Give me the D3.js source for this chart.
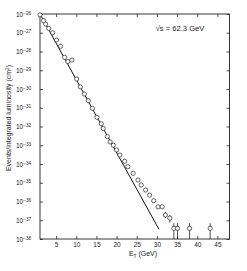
<!DOCTYPE html>
<html lang="en">
<head>
  <meta charset="UTF-8">
  <title>Events / integrated luminosity vs ET</title>
  <script src="https://d3js.org/d3.v7.min.js"></script>
  <style>
    body { margin: 0; background: #fff; font-family: "Liberation Sans", Arial, sans-serif; }
    .axis text { font-size: 6.5px; fill: #222; }
    .axis line, .axis path { stroke: #222; stroke-width: 0.8px; }
  </style>
</head>
<body>
  <svg width="247" height="271"></svg>

  <script>
    // measured points: transverse energy (GeV) and events / integrated luminosity (cm^2)
    const energies = [1.0, 1.9, 2.4, 3.15, 4.15, 5.1, 6.1, 7.1, 7.9, 8.9,
      10.1, 11.0, 12.0, 13.0, 14.0, 15.1, 16.2, 16.7, 17.7, 18.4,
      19.2, 20.0, 20.8, 22.0, 22.8, 24.1, 25.3, 26.1, 27.2, 28.2,
      29.2, 30.3, 31.3, 32.1, 33.2, 34.2, 35.1, 38.1, 43.2];
    const crossSections = [9e-27, 4.4e-27, 2.9e-27, 1.7e-27, 1.0e-27, 4.1e-28, 1.9e-28, 4.9e-29, 2.9e-29, 3.5e-29,
      3.4e-30, 1.3e-30, 5.4e-31, 2.4e-31, 9.3e-32, 3.1e-32, 1.4e-32, 7.9e-33, 2.9e-33, 1.5e-33,
      1.0e-33, 5.6e-34, 3.0e-34, 1.4e-34, 7.2e-35, 3.2e-35, 1.4e-35, 7.6e-36, 4.1e-36, 2.2e-36,
      1.1e-36, 5.2e-37, 5.2e-37, 1.9e-37, 1.3e-37, 3.7e-38, 3.7e-38, 3.7e-38, 3.7e-38];
    // error bars (low, high) only on the last few points
    const errLow = [null, null, null, null, null, null, null, null, null, null,
      null, null, null, null, null, null, null, null, null, null,
      null, null, null, null, null, null, null, null, null, null,
      null, null, null, 1.3e-37, 7.5e-38, 1e-38, 1e-38, 1e-38, 1e-38];
    const errHigh = [null, null, null, null, null, null, null, null, null, null,
      null, null, null, null, null, null, null, null, null, null,
      null, null, null, null, null, null, null, null, null, null,
      null, null, null, 2.8e-37, 1.9e-37, 7e-38, 7e-38, 7e-38, 7e-38];

    // straight fitted line
    const fitEnergies = [1.0, 30.5];
    const fitValues = [1e-26, 3.3e-38];

    const xTicks = [5, 10, 15, 20, 25, 30, 35, 40, 45];
    const yExponents = [-26, -27, -28, -29, -30, -31, -32, -33, -34, -35, -36, -37, -38];

    const svg = d3.select("svg");
    const margin = { top: 14, right: 17.5, bottom: 32, left: 40 };
    const width = 247, height = 271;

    const x = d3.scaleLinear()
      .domain([1, 48])
      .range([margin.left, width - margin.right]);

    const y = d3.scaleLog()
      .domain([1e-38, 1e-26])
      .range([height - margin.bottom, margin.top]);

    const yTickVals = yExponents.map(e => Math.pow(10, e));

    // frame
    svg.append("rect")
      .attr("x", x.range()[0]).attr("y", y.range()[1])
      .attr("width", x.range()[1] - x.range()[0])
      .attr("height", y.range()[0] - y.range()[1])
      .attr("fill", "none").attr("stroke", "#222").attr("stroke-width", 0.9);

    // bottom axis
    svg.append("g")
      .attr("class", "axis")
      .attr("transform", `translate(0,${y.range()[0]})`)
      .call(d3.axisBottom(x).tickValues(xTicks).tickSize(-3).tickSizeOuter(0).tickPadding(3).tickFormat(d3.format("d")))
      .call(g => g.select(".domain").remove());

    // top axis
    svg.append("g")
      .attr("class", "axis")
      .attr("transform", `translate(0,${y.range()[1]})`)
      .call(d3.axisTop(x).tickValues(xTicks).tickSize(-3).tickSizeOuter(0).tickFormat(""))
      .call(g => g.select(".domain").remove());

    // left axis
    const yAxis = svg.append("g")
      .attr("class", "axis")
      .attr("transform", `translate(${margin.left},0)`)
      .call(d3.axisLeft(y).tickValues(yTickVals).tickSize(-3).tickSizeOuter(0).tickPadding(9).tickFormat(""))
      .call(g => g.select(".domain").remove());

    yAxis.selectAll(".tick text").each(function(d, i) {
      const t = d3.select(this);
      t.append("tspan").text("10");
      t.append("tspan").attr("dy", "-0.45em").attr("font-size", "4.6px").text("\u2212" + (-yExponents[i]));
    });

    // right axis
    svg.append("g")
      .attr("class", "axis")
      .attr("transform", `translate(${x.range()[1]},0)`)
      .call(d3.axisRight(y).tickValues(yTickVals).tickSize(-3).tickSizeOuter(0).tickFormat(""))
      .call(g => g.select(".domain").remove());

    // fit line
    const line = d3.line()
      .x(d => x(d[0]))
      .y(d => y(d[1]));
    svg.append("path")
      .datum(fitEnergies.map((e, i) => [e, fitValues[i]]))
      .attr("fill", "none")
      .attr("stroke", "#111")
      .attr("stroke-width", 1)
      .attr("d", line);

    const points = energies.map((e, i) => ({ e, v: crossSections[i], lo: errLow[i], hi: errHigh[i] }));

    // error bars
    svg.selectAll(".err")
      .data(points.filter(d => d.lo !== null))
      .join("line")
      .attr("class", "err")
      .attr("x1", d => x(d.e)).attr("x2", d => x(d.e))
      .attr("y1", d => y(d.lo)).attr("y2", d => y(d.hi))
      .attr("stroke", "#222").attr("stroke-width", 0.8);

    // points
    svg.selectAll(".pt")
      .data(points)
      .join("circle")
      .attr("class", "pt")
      .attr("cx", d => x(d.e))
      .attr("cy", d => y(d.v))
      .attr("r", 2.1)
      .attr("fill", "#fff")
      .attr("stroke", "#222")
      .attr("stroke-width", 0.7);

    // annotation
    const ann = svg.append("text")
      .attr("x", 180).attr("y", 31)
      .attr("text-anchor", "middle")
      .attr("font-size", "7.6px")
      .attr("fill", "#222");
    ann.append("tspan").text("\u221As = 62.3  GeV");

    // axis titles
    const xl = svg.append("text")
      .attr("x", 143).attr("y", 256)
      .attr("text-anchor", "middle")
      .attr("font-size", "7px")
      .attr("fill", "#222");
    xl.append("tspan").text("E");
    xl.append("tspan").attr("dy", "1.5").attr("font-size", "4.8px").text("T");
    xl.append("tspan").attr("dy", "-1.5").text(" (GeV)");

    const yl = svg.append("text")
      .attr("transform", "translate(11,118) rotate(-90)")
      .attr("text-anchor", "middle")
      .attr("font-size", "7px")
      .attr("fill", "#222");
    yl.append("tspan").text("Events/integrated luminosity (cm");
    yl.append("tspan").attr("dy", "-2.5").attr("font-size", "4.8px").text("2");
    yl.append("tspan").attr("dy", "2.5").text(")");
  </script>
</body>
</html>
